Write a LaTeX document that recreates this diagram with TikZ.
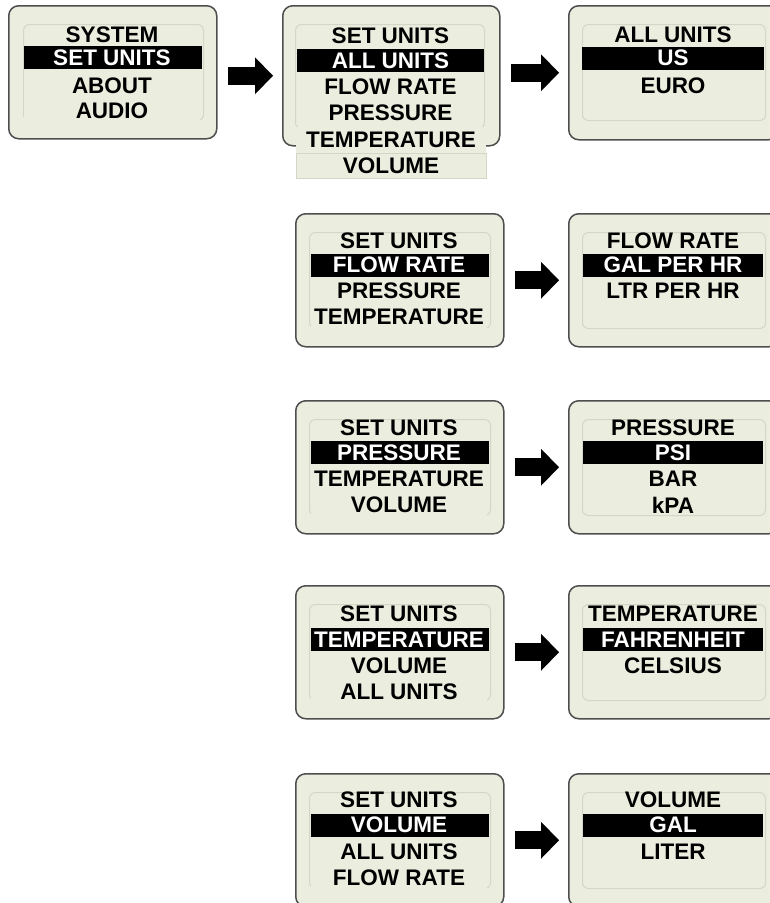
\documentclass[tikz,border=0pt]{standalone}
\usepackage{fontspec}
\setmainfont{Liberation Sans}
\usepackage{tikz}
\usetikzlibrary{
    arrows.meta,
    positioning
}
\definecolor{lcdbg}{RGB}{235,238,223}
\definecolor{lcdedge}{RGB}{78,78,78}
\definecolor{lcdline}{RGB}{212,215,200}
\newcommand{\itemfont}{\fontsize{22.5pt}{27pt}\selectfont\bfseries}

\begin{document}
\begin{tikzpicture}[
  x=1pt, y=-1pt,
  screen/.style={
    draw=lcdedge, line width=1.5pt, rounded corners=10pt, fill=lcdbg,
    anchor=north west, inner sep=0pt, minimum height=133pt},
  lcd/.style={
    draw=lcdline, line width=1pt, rounded corners=6pt,
    anchor=north west, inner sep=0pt, minimum height=96pt},
  bar/.style={fill=black, inner sep=0pt, minimum height=23pt},
  item/.style={font=\itemfont, inner sep=0pt},
  sel/.style={item, text=white},
  lastrow/.style={item, fill=lcdbg, minimum width=176pt, minimum height=26pt},
  go/.style={line width=18pt,
    -{Triangle[length=18pt, width=37pt, line width=0pt]},
    shorten <=10pt, shorten >=9pt}
]
\useasboundingbox (0,0) rectangle (770,903);
\clip (0,0) rectangle (770,903);

%% Row 1: main menu
\node[screen, minimum width=208pt] (sys) at (8,5) {};
\node[lcd, minimum width=180pt] (sys-lcd) at (23,24) {};
\node[bar, minimum width=178pt] (sys-bar) at (113,57) {};
\node[item] (sys-1) at (112,35) {SYSTEM};
\node[sel]  (sys-2) at (112,58) {SET UNITS};
\node[lastrow] (sys-3) at (112,86) {ABOUT};
\node[lastrow] (sys-4) at (112,111) {AUDIO};

%% Row 1: set units list (runs past the screen)
\node[screen, minimum width=217pt, minimum height=140pt] (units) at (282,5) {};
\node[lcd, minimum width=189pt, minimum height=104pt] (units-lcd) at (295,24) {};
\node[bar, minimum width=187pt] (units-bar) at (390.5,60) {};
\node[item] (units-1) at (390.5,36) {SET UNITS};
\node[sel]  (units-2) at (390.5,61) {ALL UNITS};
\node[item] (units-3) at (390.5,87) {FLOW RATE};
\node[item] (units-4) at (390.5,113) {PRESSURE};
\node[item, fill=lcdbg, minimum width=190pt, minimum height=26pt]
  (units-5) at (391,140) {TEMPERATURE};
\node[item, fill=lcdbg, draw=lcdline, line width=0.8pt,
  minimum width=190pt, minimum height=25pt]
  (units-6) at (391,165.5) {VOLUME};

%% Row 1: all units
\node[screen, minimum width=210pt, minimum height=134pt] (rall) at (568,5) {};
\node[lcd, minimum width=183pt] (rall-lcd) at (582,24) {};
\node[bar, minimum width=182pt] (rall-bar) at (673,58) {};
\node[item] (rall-1) at (673,35) {ALL UNITS};
\node[sel]  (rall-2) at (673,58) {US};
\node[item] (rall-3) at (673,86) {EURO};

%% Row 2: flow rate
\node[screen, minimum width=208pt] (lflow) at (295,213) {};
\node[lcd, minimum width=181pt] (lflow-lcd) at (309,232) {};
\node[bar, minimum width=178pt] (lflow-bar) at (400,265.5) {};
\node[item] (lflow-1) at (399,241) {SET UNITS};
\node[sel]  (lflow-2) at (399,265) {FLOW RATE};
\node[item] (lflow-3) at (399,291) {PRESSURE};
\node[lastrow] (lflow-4) at (399,317) {TEMPERATURE};

\node[screen, minimum width=210pt] (rflow) at (568,213) {};
\node[lcd, minimum width=183pt] (rflow-lcd) at (582,232) {};
\node[bar, minimum width=180pt] (rflow-bar) at (673,265.5) {};
\node[item] (rflow-1) at (673,241) {FLOW RATE};
\node[sel]  (rflow-2) at (673,265) {GAL PER HR};
\node[item] (rflow-3) at (673,291) {LTR PER HR};

%% Row 3: pressure
\node[screen, minimum width=208pt] (lpres) at (295,400) {};
\node[lcd, minimum width=181pt] (lpres-lcd) at (309,419) {};
\node[bar, minimum width=178pt] (lpres-bar) at (400,452.5) {};
\node[item] (lpres-1) at (399,428) {SET UNITS};
\node[sel]  (lpres-2) at (399,453) {PRESSURE};
\node[item] (lpres-3) at (399,479) {TEMPERATURE};
\node[lastrow] (lpres-4) at (399,505) {VOLUME};

\node[screen, minimum width=210pt] (rpres) at (568,400) {};
\node[lcd, minimum width=183pt] (rpres-lcd) at (582,419) {};
\node[bar, minimum width=180pt] (rpres-bar) at (673,452.5) {};
\node[item] (rpres-1) at (673,428) {PRESSURE};
\node[sel]  (rpres-2) at (673,453) {PSI};
\node[item] (rpres-3) at (673,479) {BAR};
\node[item] (rpres-4) at (673,505) {kPA};

%% Row 4: temperature
\node[screen, minimum width=208pt] (ltemp) at (295,585) {};
\node[lcd, minimum width=181pt] (ltemp-lcd) at (309,604) {};
\node[bar, minimum width=178pt] (ltemp-bar) at (400,639) {};
\node[item] (ltemp-1) at (399,614) {SET UNITS};
\node[sel]  (ltemp-2) at (399,640) {TEMPERATURE};
\node[item] (ltemp-3) at (399,666) {VOLUME};
\node[lastrow] (ltemp-4) at (399,692) {ALL UNITS};

\node[screen, minimum width=210pt] (rtemp) at (568,585) {};
\node[lcd, minimum width=183pt] (rtemp-lcd) at (582,604) {};
\node[bar, minimum width=180pt] (rtemp-bar) at (673,639) {};
\node[item] (rtemp-1) at (673,614) {TEMPERATURE};
\node[sel]  (rtemp-2) at (673,640) {FAHRENHEIT};
\node[item] (rtemp-3) at (673,666) {CELSIUS};

%% Row 5: volume
\node[screen, minimum width=208pt] (lvol) at (295,773) {};
\node[lcd, minimum width=181pt] (lvol-lcd) at (309,792) {};
\node[bar, minimum width=178pt] (lvol-bar) at (400,825) {};
\node[item] (lvol-1) at (399,800) {SET UNITS};
\node[sel]  (lvol-2) at (399,825) {VOLUME};
\node[item] (lvol-3) at (399,852) {ALL UNITS};
\node[lastrow] (lvol-4) at (399,878) {FLOW RATE};

\node[screen, minimum width=210pt] (rvol) at (568,773) {};
\node[lcd, minimum width=183pt] (rvol-lcd) at (582,792) {};
\node[bar, minimum width=180pt] (rvol-bar) at (673,825) {};
\node[item] (rvol-1) at (673,800) {VOLUME};
\node[sel]  (rvol-2) at (673,825) {GAL};
\node[item] (rvol-3) at (673,852) {LITER};

%% Arrows between screens
\draw[go] (sys.east |- units.west) -- (units.west);
\draw[go] (units.east |- rall.west) -- (rall.west);
\draw[go] (lflow) -- (rflow);
\draw[go] (lpres) -- (rpres);
\draw[go] (ltemp) -- (rtemp);
\draw[go] (lvol) -- (rvol);

\end{tikzpicture}
\end{document}
